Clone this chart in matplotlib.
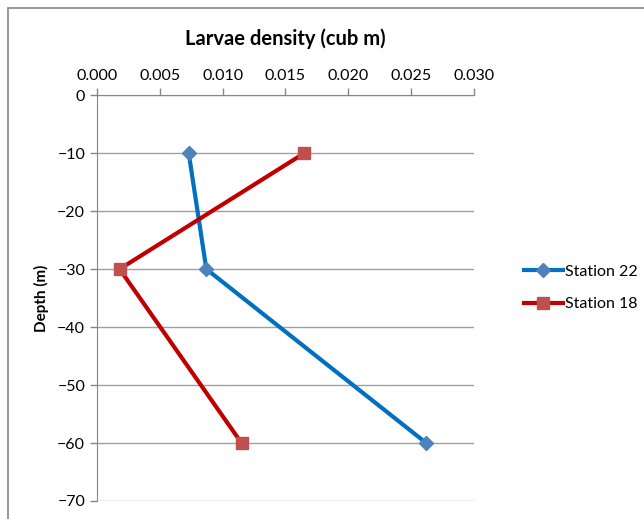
import matplotlib.pyplot as plt
from matplotlib.patches import Rectangle

plt.rcParams['font.family'] = ['Lato', 'DejaVu Sans']

# data
depth = [-10, -30, -60]
station22 = [0.0073, 0.0087, 0.0262]
station18 = [0.0165, 0.0018, 0.0115]
xticks = [0.000, 0.005, 0.010, 0.015, 0.020, 0.025, 0.030]
yticks = [0, -10, -20, -30, -40, -50, -60, -70]

fig = plt.figure(figsize=(6.44, 5.19), dpi=100)
ax = fig.add_axes([0.1506, 0.0347, 0.5854, 0.782])

ax.plot(station22, depth, color='#0070C0', lw=3, marker='D', ms=7,
        mfc='#4F81BD', mec='#4F81BD', label='Station 22', zorder=3)
ax.plot(station18, depth, color='#C00000', lw=3, marker='s', ms=9,
        mfc='#C0504D', mec='#C0504D', label='Station 18', zorder=3)

ax.set_xlim(0, 0.030)
ax.set_ylim(-70, 0)
ax.set_xticks(xticks)
ax.set_xticklabels([f"{v:.3f}" for v in xticks])
ax.set_yticks(yticks)
ax.xaxis.tick_top()
ax.xaxis.set_label_position('top')
ax.tick_params(axis='both', labelsize=11.5, color='#868686', length=5, width=1)
ax.tick_params(axis='x', pad=4)
ax.grid(axis='y', color='#A0A0A0', lw=1)
ax.set_axisbelow(True)
for s in ['right', 'bottom']:
    ax.spines[s].set_visible(False)
for s in ['left', 'top']:
    ax.spines[s].set_color('#868686')

ax.set_xlabel('Larvae density (cub m)', fontsize=14.5, fontweight='bold', labelpad=17)
ax.set_ylabel('Depth (m)', fontsize=11, fontweight='bold', labelpad=6)

ax.legend(loc='center left', bbox_to_anchor=(1.095, 0.525), frameon=False,
          fontsize=11.5, handlelength=2.4, labelspacing=1.15, handletextpad=0.15)

# chart area border (left and top edges visible)
fig.patches.append(Rectangle((8 / 644, -0.1), 1.1, 1.1 - 8 / 519, transform=fig.transFigure,
                             fill=False, edgecolor='#868686', lw=1.2))

fig.savefig('out.png', dpi=100)
